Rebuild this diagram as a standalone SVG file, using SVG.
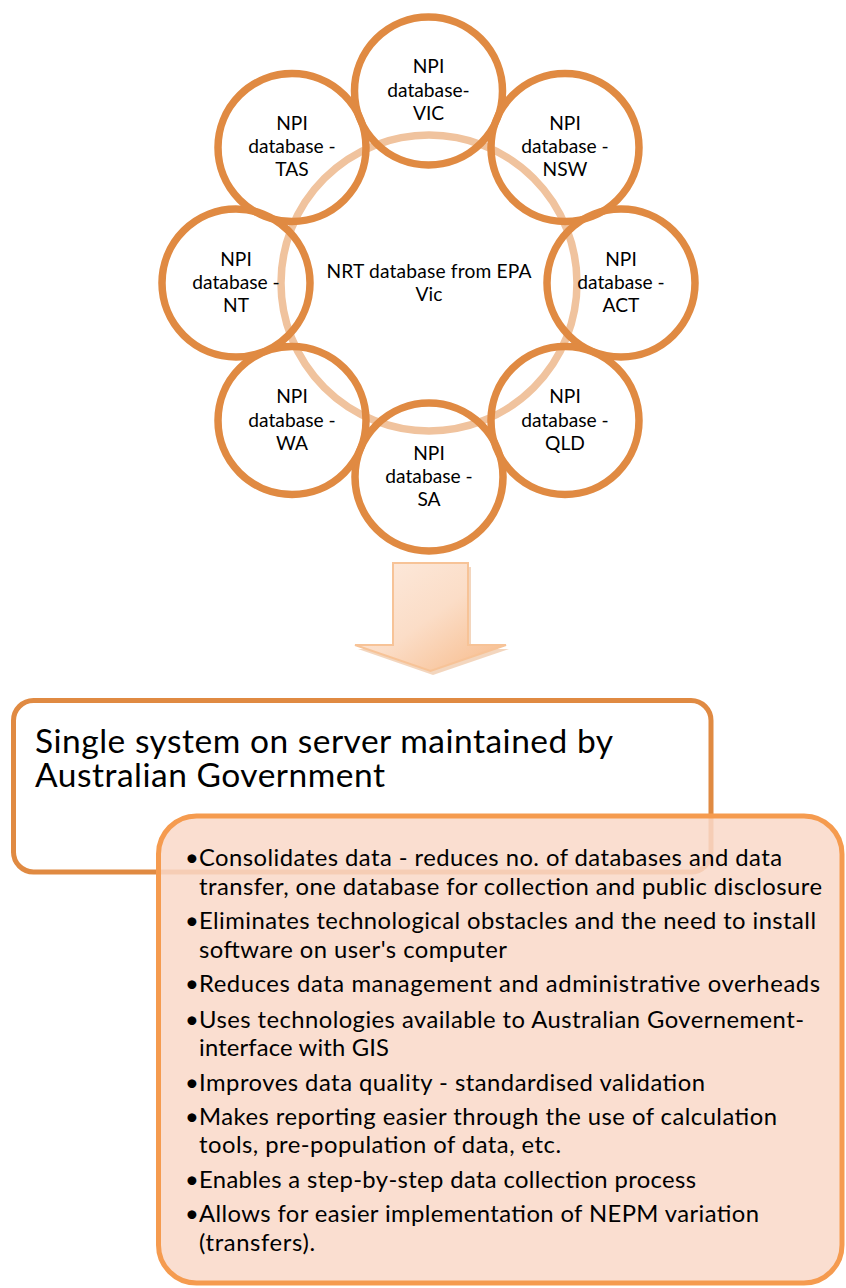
<svg xmlns="http://www.w3.org/2000/svg" width="846" height="1288" viewBox="0 0 846 1288">
<style>
.ring{fill:none;stroke:#F0C39E;stroke-width:7.5}
.c{fill:none;stroke:#E08A42;stroke-width:7.5}
.t{font-family:Lato,"Liberation Sans",sans-serif;font-size:19.2px;fill:#000;text-anchor:middle}
.title{font-family:Lato,"Liberation Sans",sans-serif;font-size:33.5px;fill:#000}
.b{font-family:Lato,"Liberation Sans",sans-serif;font-size:23.8px;fill:#000}
.bd{font-family:Lato,"Liberation Sans",sans-serif;font-size:23.8px;fill:#000;text-anchor:middle}
</style>
<defs>
<linearGradient id="ag" x1="0" y1="0" x2="1" y2="1">
<stop offset="0" stop-color="#FDEBDF"/>
<stop offset="0.5" stop-color="#FBDDC7"/>
<stop offset="1" stop-color="#F7B987"/>
</linearGradient>
</defs>
<rect width="846" height="1288" fill="#fff"/>
<g id="ring">
<circle class="ring" cx="429" cy="283" r="148"/>
<text class="t" x="429" y="277.5" textLength="205">NRT database from EPA</text>
<text class="t" x="429" y="301">Vic</text>
</g>
<g id="vic">
<circle class="c" cx="428.5" cy="91" r="74"/>
<text class="t" x="428.5" y="73">NPI</text>
<text class="t" x="428.5" y="96.5">database-</text>
<text class="t" x="428.5" y="119.5">VIC</text>
</g>
<g id="nsw">
<circle class="c" cx="565" cy="147.5" r="74"/>
<text class="t" x="565" y="130">NPI</text>
<text class="t" x="565" y="153">database -</text>
<text class="t" x="565" y="176">NSW</text>
</g>
<g id="act">
<circle class="c" cx="621" cy="283" r="74"/>
<text class="t" x="621" y="265.5">NPI</text>
<text class="t" x="621" y="289">database -</text>
<text class="t" x="621" y="312">ACT</text>
</g>
<g id="qld">
<circle class="c" cx="565" cy="420.5" r="74"/>
<text class="t" x="565" y="403">NPI</text>
<text class="t" x="565" y="426.5">database -</text>
<text class="t" x="565" y="449.5">QLD</text>
</g>
<g id="sa">
<circle class="c" cx="429" cy="477" r="74"/>
<text class="t" x="429" y="460">NPI</text>
<text class="t" x="429" y="482.5">database -</text>
<text class="t" x="429" y="506">SA</text>
</g>
<g id="wa">
<circle class="c" cx="292" cy="420.5" r="74"/>
<text class="t" x="292" y="403">NPI</text>
<text class="t" x="292" y="426.5">database -</text>
<text class="t" x="292" y="449.5">WA</text>
</g>
<g id="nt">
<circle class="c" cx="236" cy="283" r="74"/>
<text class="t" x="236" y="265.5">NPI</text>
<text class="t" x="236" y="289">database -</text>
<text class="t" x="236" y="312">NT</text>
</g>
<g id="tas">
<circle class="c" cx="292" cy="147.5" r="74"/>
<text class="t" x="292" y="130">NPI</text>
<text class="t" x="292" y="153">database -</text>
<text class="t" x="292" y="176">TAS</text>
</g>
<g id="connectors">
<polygon points="396,567 471,567 471,649 509,649 433,675 358,649 396,649" fill="#E9B489" opacity="0.55"/>
<polygon points="393,563 468,563 468,645 506,645 430.5,671 355,645 393,645" fill="url(#ag)" stroke="#F7C397" stroke-width="2" stroke-linejoin="miter"/>
</g>
<g id="system">
<rect x="13.5" y="700.5" width="697.5" height="171.5" rx="20" fill="#fff" stroke="#E08A42" stroke-width="5"/>
<text class="title" x="35" y="753" textLength="578">Single system on server maintained by</text>
<text class="title" x="35" y="787" textLength="350">Australian Government</text>
</g>
<g id="benefits">
<rect x="158.5" y="816" width="683.5" height="467" rx="38" fill="#F9D8C8" fill-opacity="0.86" stroke="#F59B4F" stroke-width="5"/>
<text class="bd" x="192" y="866">•</text>
<text class="b" x="199" y="866" textLength="583">Consolidates data - reduces no. of databases and data</text>
<text class="b" x="199" y="894.7" textLength="623">transfer, one database for collection and public disclosure</text>
<text class="bd" x="192" y="929.2">•</text>
<text class="b" x="199" y="929.2" textLength="617">Eliminates technological obstacles and the need to install</text>
<text class="b" x="199" y="957.9" textLength="308">software on user's computer</text>
<text class="bd" x="192" y="992.4">•</text>
<text class="b" x="199" y="992.4" textLength="621">Reduces data management and administrative overheads</text>
<text class="bd" x="192" y="1027.5">•</text>
<text class="b" x="199" y="1027.5" textLength="605">Uses technologies available to Australian Governement-</text>
<text class="b" x="199" y="1056.2" textLength="190">interface with GIS</text>
<text class="bd" x="192" y="1090.5">•</text>
<text class="b" x="199" y="1090.5" textLength="506">Improves data quality - standardised validation</text>
<text class="bd" x="192" y="1124.6">•</text>
<text class="b" x="199" y="1124.6" textLength="578">Makes reporting easier through the use of calculation</text>
<text class="b" x="199" y="1153.3" textLength="362">tools, pre-population of data, etc.</text>
<text class="bd" x="192" y="1187.8">•</text>
<text class="b" x="199" y="1187.8" textLength="497">Enables a step-by-step data collection process</text>
<text class="bd" x="192" y="1222.3">•</text>
<text class="b" x="199" y="1222.3" textLength="560">Allows for easier implementation of NEPM variation</text>
<text class="b" x="199" y="1251" textLength="116">(transfers).</text>
</g>
</svg>
